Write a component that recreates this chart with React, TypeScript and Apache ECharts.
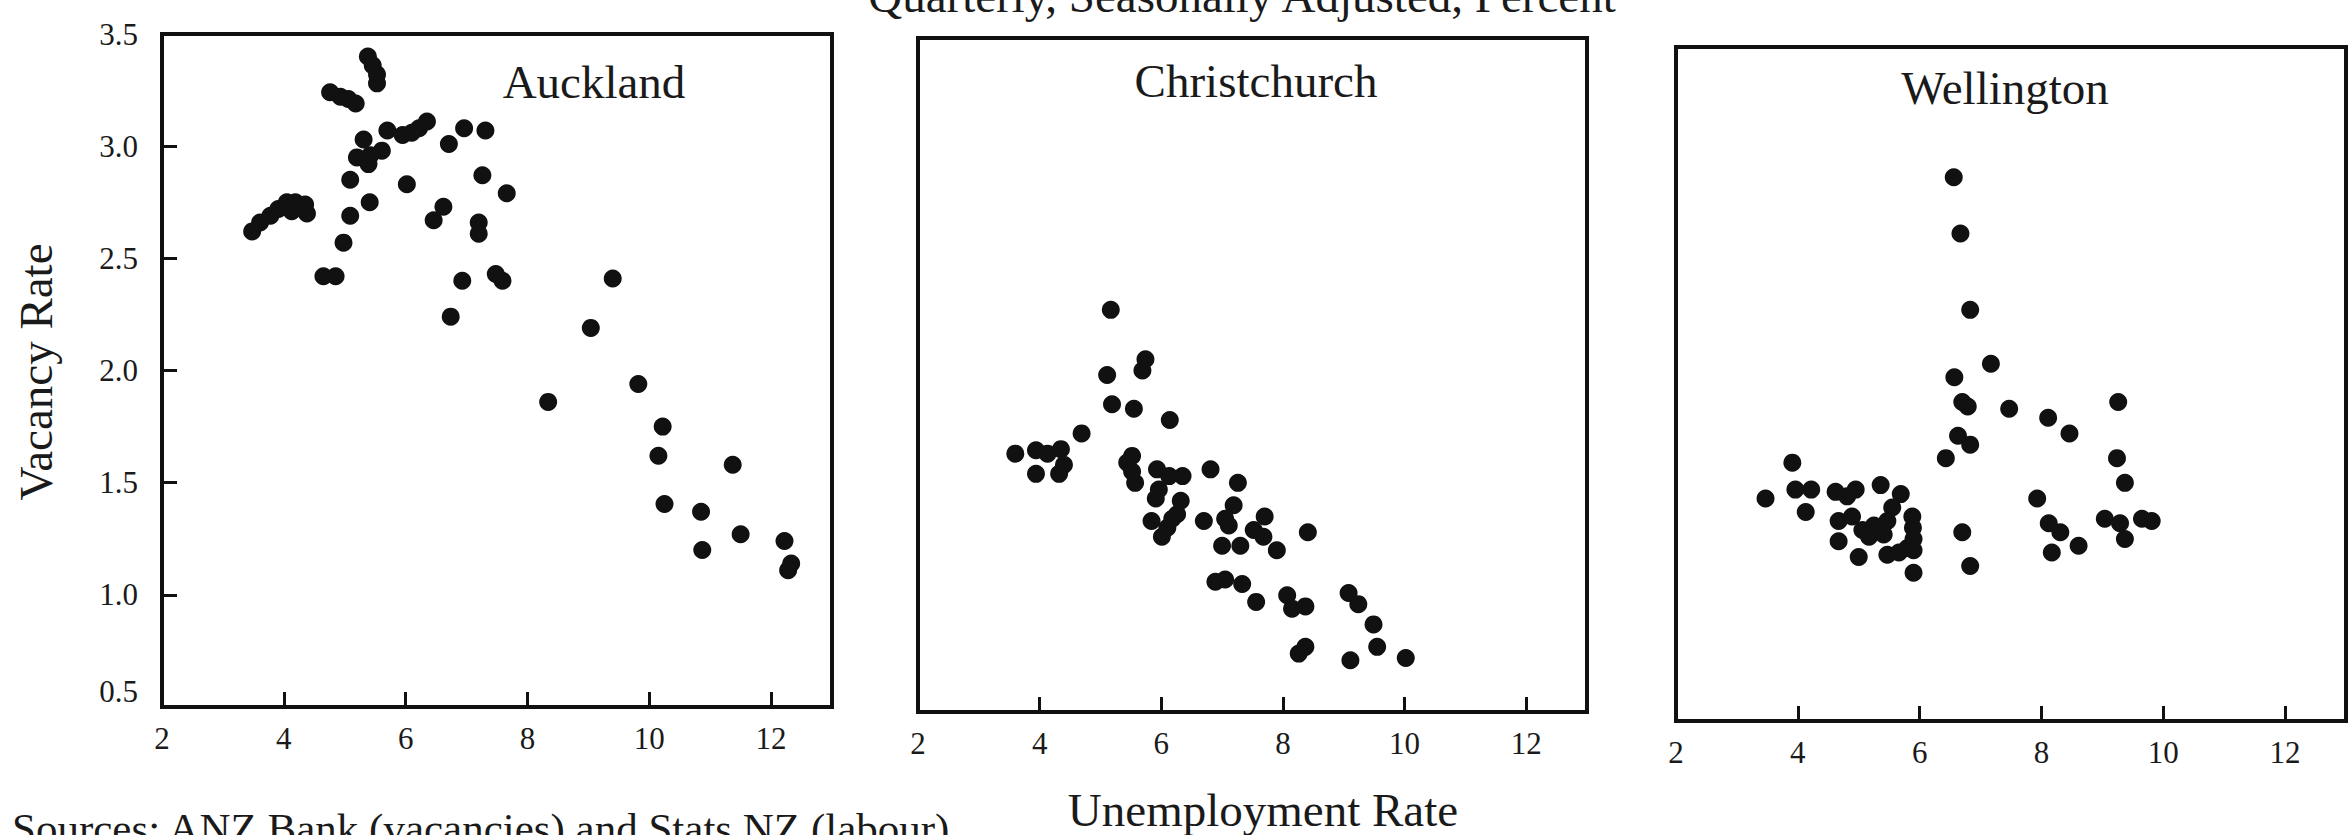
import React, { useEffect, useRef } from "react";
import * as echarts from "echarts";

const xLabels = [2, 4, 6, 8, 10, 12];
const xTicks = [4, 6, 8, 10, 12];
const yLabels = [0.5, 1.0, 1.5, 2.0, 2.5, 3.0, 3.5];
const yTicks = [1.0, 1.5, 2.0, 2.5, 3.0];

const panelNames = ["Auckland", "Christchurch", "Wellington"];

const auckland: number[][] = [
  [5.38, 3.40], [5.46, 3.36], [5.53, 3.32], [5.53, 3.28],
  [4.76, 3.24], [4.93, 3.22], [5.06, 3.21], [5.18, 3.19],
  [5.70, 3.07], [5.95, 3.05], [6.10, 3.06], [6.22, 3.08], [6.35, 3.11],
  [6.71, 3.01], [6.96, 3.08], [7.31, 3.07],
  [5.31, 3.03], [5.20, 2.95], [5.42, 2.96], [5.61, 2.98], [5.39, 2.92],
  [5.09, 2.85], [6.02, 2.83], [7.26, 2.87], [7.66, 2.79], [5.41, 2.75], [5.09, 2.69], [4.98, 2.57],
  [6.62, 2.73], [6.46, 2.67], [7.20, 2.66], [7.20, 2.61],
  [4.65, 2.42], [4.85, 2.42], [6.93, 2.40], [7.48, 2.43], [7.59, 2.40], [6.74, 2.24],
  [3.48, 2.62], [3.61, 2.66], [3.78, 2.69], [3.91, 2.72], [4.05, 2.75], [4.19, 2.75],
  [4.35, 2.74], [4.38, 2.70], [4.13, 2.71],
  [9.40, 2.41], [9.04, 2.19], [8.34, 1.86], [9.82, 1.94], [10.22, 1.75], [10.15, 1.62],
  [11.37, 1.58], [10.25, 1.405], [10.85, 1.37], [11.50, 1.27], [10.87, 1.20],
  [12.22, 1.24], [12.33, 1.14], [12.28, 1.11],
];

const christchurch: number[][] = [
  [5.17, 2.29], [5.74, 2.07], [5.69, 2.02], [5.11, 2.00], [5.19, 1.87], [5.55, 1.85],
  [6.14, 1.80], [4.69, 1.74], [3.60, 1.65],
  [3.94, 1.665], [4.13, 1.65], [4.35, 1.67], [4.40, 1.60], [4.32, 1.56], [3.94, 1.56],
  [5.52, 1.64], [5.44, 1.61], [5.52, 1.57], [5.57, 1.52], [5.93, 1.58], [6.13, 1.55],
  [6.35, 1.55], [5.96, 1.49], [5.91, 1.45], [6.32, 1.44], [5.84, 1.35], [6.01, 1.28],
  [6.18, 1.36], [6.26, 1.38], [6.10, 1.32],
  [6.81, 1.58], [7.26, 1.52], [7.19, 1.42], [6.70, 1.35], [7.05, 1.36], [7.11, 1.33],
  [7.70, 1.37], [7.52, 1.31], [7.68, 1.28], [7.90, 1.22], [7.00, 1.24], [7.30, 1.24], [8.41, 1.30],
  [6.89, 1.08], [7.05, 1.09], [7.33, 1.07], [7.56, 0.99], [8.07, 1.02], [8.15, 0.96],
  [8.37, 0.97], [9.08, 1.03], [9.24, 0.98], [9.49, 0.89], [9.55, 0.79], [8.37, 0.79],
  [8.26, 0.76], [9.11, 0.73], [10.02, 0.74],
];

const wellington: number[][] = [
  [6.56, 2.92], [6.67, 2.67], [6.83, 2.33], [7.17, 2.09], [6.57, 2.03], [6.70, 1.92],
  [6.79, 1.90], [7.47, 1.89], [8.11, 1.85], [8.46, 1.78], [9.26, 1.92], [6.63, 1.77],
  [6.83, 1.73], [6.43, 1.67], [9.24, 1.67], [9.37, 1.56], [7.93, 1.49], [8.12, 1.38],
  [8.31, 1.34], [8.61, 1.28], [8.17, 1.25], [9.04, 1.40], [9.29, 1.38], [9.37, 1.31],
  [9.65, 1.40], [9.81, 1.39], [6.70, 1.34], [6.83, 1.19],
  [3.47, 1.49], [3.91, 1.65], [3.96, 1.53], [4.22, 1.53], [4.13, 1.43], [4.62, 1.52],
  [4.81, 1.50], [4.95, 1.53], [5.36, 1.55], [5.69, 1.51], [5.55, 1.45], [5.47, 1.39],
  [5.88, 1.41], [5.89, 1.36], [5.90, 1.31], [5.90, 1.26], [4.67, 1.39], [4.89, 1.41],
  [5.06, 1.35], [5.25, 1.37], [5.17, 1.32], [5.41, 1.33], [4.67, 1.30], [5.00, 1.23],
  [5.47, 1.24], [5.66, 1.25], [5.80, 1.27], [5.90, 1.16],
];

const panelData = [auckland, christchurch, wellington];

const FONT = "'Liberation Serif', 'Times New Roman', 'DejaVu Serif', serif";
const INK = "#111111";

export default function App() {
  const ref = useRef<HTMLDivElement>(null);

  useEffect(() => {
    if (!ref.current) return;
    const chart = echarts.init(ref.current, null, { renderer: "svg" });

    const grids = [
      { left: 162, top: 34, width: 670, height: 673 },
      { left: 918, top: 38, width: 669, height: 674 },
      { left: 1676, top: 47, width: 670, height: 674 },
    ];
    const panelLabelPos = [
      { x: 594, y: 82 },
      { x: 1256, y: 81 },
      { x: 2005, y: 88 },
    ];

    const option: any = {
      animation: false,
      backgroundColor: "#ffffff",
      grid: grids.map((g) => ({
        ...g,
        show: true,
        borderColor: INK,
        borderWidth: 4,
        backgroundColor: "transparent",
        containLabel: false,
      })),
      xAxis: grids.map((_, i) => ({
        type: "value",
        gridIndex: i,
        min: 2,
        max: 13,
        interval: 2,
        axisLine: { show: false },
        splitLine: { show: false },
        axisTick: {
          show: true,
          inside: true,
          length: 15,
          customValues: xTicks,
          lineStyle: { color: INK, width: 3 },
        },
        axisLabel: {
          show: true,
          margin: 16,
          customValues: xLabels,
          fontFamily: FONT,
          fontSize: 31,
          color: "#1a1a1a",
        },
      })),
      yAxis: grids.map((_, i) => ({
        type: "value",
        gridIndex: i,
        min: 0.5,
        max: 3.5,
        interval: 0.5,
        axisLine: { show: false },
        splitLine: { show: false },
        axisTick: {
          show: i === 0,
          inside: true,
          length: 15,
          customValues: yTicks,
          lineStyle: { color: INK, width: 3 },
        },
        axisLabel: {
          show: i === 0,
          margin: 24,
          customValues: yLabels,
          fontFamily: FONT,
          fontSize: 31,
          color: "#1a1a1a",
          verticalAlignMinLabel: "bottom",
          formatter: (v: number) => v.toFixed(1),
        },
      })),
      series: panelData.map((d, i) => ({
        type: "scatter",
        name: panelNames[i],
        xAxisIndex: i,
        yAxisIndex: i,
        data: d,
        symbol: "circle",
        symbolSize: 18,
        itemStyle: { color: INK, opacity: 1 },
      })),
      graphic: [
        ...panelNames.map((name, i) => ({
          type: "text",
          x: panelLabelPos[i].x,
          y: panelLabelPos[i].y,
          style: {
            text: name,
            fontFamily: FONT,
            fontSize: 47,
            fill: "#1a1a1a",
            align: "center",
            verticalAlign: "middle",
          },
        })),
        {
          type: "text",
          x: 1242,
          y: -4,
          style: {
            text: "Quarterly, Seasonally Adjusted, Percent",
            fontFamily: FONT,
            fontSize: 47,
            fill: "#1a1a1a",
            align: "center",
            verticalAlign: "middle",
          },
        },
        {
          type: "text",
          x: 36,
          y: 372,
          rotation: Math.PI / 2,
          style: {
            text: "Vacancy Rate",
            fontFamily: FONT,
            fontSize: 47,
            fill: "#1a1a1a",
            align: "center",
            verticalAlign: "middle",
          },
        },
        {
          type: "text",
          x: 1263,
          y: 810,
          style: {
            text: "Unemployment Rate",
            fontFamily: FONT,
            fontSize: 47,
            fill: "#1a1a1a",
            align: "center",
            verticalAlign: "middle",
          },
        },
        {
          type: "text",
          x: 12,
          y: 828,
          style: {
            text: "Sources: ANZ Bank (vacancies) and Stats NZ (labour)",
            fontFamily: FONT,
            fontSize: 43,
            fill: "#1a1a1a",
            align: "left",
            verticalAlign: "middle",
          },
        },
      ],
    };

    chart.setOption(option);
    return () => chart.dispose();
  }, []);

  return (
    <div
      ref={ref}
      style={{
        position: "absolute",
        left: 0,
        top: 0,
        width: "2350px",
        height: "835px",
        background: "#ffffff",
      }}
    />
  );
}
